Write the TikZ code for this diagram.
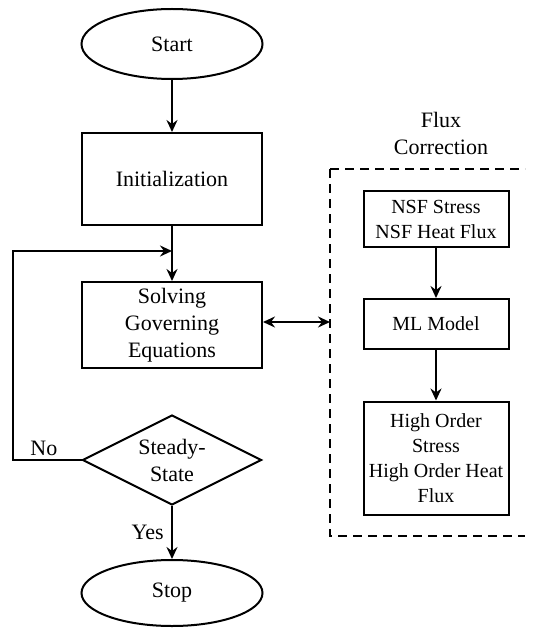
\documentclass[tikz,border=0pt]{standalone}
\usepackage{fontspec}
\setmainfont{Liberation Serif}
\usepackage{tikz}
\usetikzlibrary{shapes.geometric,arrows.meta}

\tikzset{
  every node/.style={font=\fontsize{22}{27}\selectfont},
  small/.style={font=\fontsize{20}{25}\selectfont},
  terminal/.style={draw, ellipse, line width=2pt, minimum width=181pt, minimum height=70pt, inner sep=0pt},
  process/.style={draw, rectangle, line width=2pt, minimum width=180pt, align=center, inner sep=2pt},
  subprocess/.style={draw, rectangle, line width=2pt, minimum width=145pt, align=center, inner sep=2pt, small},
  decision/.style={draw, diamond, line width=2pt, minimum width=179pt, minimum height=90pt, inner sep=0pt, aspect=2, align=center},
  flow/.style={line width=2pt, -{Stealth[length=12pt,width=11pt,inset=4pt]}},
}

\begin{document}
\begin{tikzpicture}[x=1pt, y=-1pt]
        \useasboundingbox (0,0) rectangle (532,628);

        % Main loop
        \node[terminal] (start) at (172,44) {Start};
        \node[process, minimum height=92pt] (init) at (172,179) {Initialization};
        \node[process, minimum height=86pt] (solve) at (172,325) {Solving\\Governing\\Equations};
        \node[decision] (steady) at (172,460) {Steady-\\State};
        \node[terminal, minimum height=66pt] (stop) at (172,593) {Stop};

        \draw[flow] (start) -- (init);
        \draw[flow] (init) -- (solve);
        \draw[flow] (steady) -- node[left, xshift=-4pt] {Yes} (stop);

        % No branch back to the solver
        \coordinate (back) at (172,251);
        \draw[flow] (steady.west) -- node[above, pos=0.55] {No} (13,460) -- (13,251) -- (back);

        % Flux correction block (cut off on the right)
        \coordinate (fluxleft) at (330,322);
        \draw[line width=2pt, dash pattern=on 9pt off 6pt] (330,169) -- (525,169);
        \draw[line width=2pt, dash pattern=on 9pt off 6pt] (330,169) -- (330,536) -- (525,536);
        \node[align=center] (fluxtitle) at (441,133) {Flux\\Correction};

        \node[subprocess, minimum height=55pt] (nsf) at (436,219) {NSF Stress\\NSF Heat Flux};
        \node[subprocess, minimum height=50pt] (ml) at (436,324) {ML Model};
        \node[subprocess, minimum height=113pt] (high) at (436,458) {High Order\\Stress\\High Order Heat\\Flux};

        \draw[flow] (nsf) -- (ml);
        \draw[flow] (ml) -- (high);

        \draw[line width=2pt, {Stealth[length=12pt,width=11pt,inset=4pt]}-{Stealth[length=12pt,width=11pt,inset=4pt]}] (solve.east |- fluxleft) -- (fluxleft);
      \end{tikzpicture}
\end{document}
